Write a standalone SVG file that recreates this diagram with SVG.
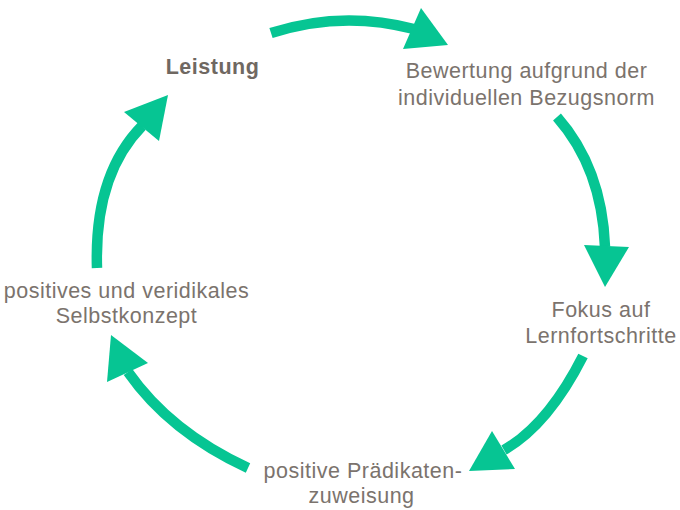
<svg xmlns="http://www.w3.org/2000/svg" width="680" height="510" viewBox="0 0 680 510">
<style>
.lbl{font-family:"Liberation Sans",Arial,sans-serif;font-size:21.5px;letter-spacing:0.5px;fill:#7b736d;text-anchor:middle}
.bold{font-weight:bold;fill:#6f6862}
.shaft{fill:none;stroke:#06C593;stroke-width:10.5;stroke-linecap:butt}
.head{fill:#06C593}
</style>
<rect width="680" height="510" fill="#ffffff"/>
<g id="connectors">
  <g id="c1"><path class="shaft" d="M271,33 Q342,10 414,29"/><polygon class="head" points="421,8 403,49 448,45"/></g>
  <g id="c2"><path class="shaft" d="M557,117 Q602,168 605,247"/><polygon class="head" points="584,245 629,247 605,287"/></g>
  <g id="c3"><path class="shaft" d="M583,356 Q548,425 504,450"/><polygon class="head" points="492,431 515,469 469,471"/></g>
  <g id="c4"><path class="shaft" d="M248,468 Q170,432 128,372"/><polygon class="head" points="111,335 148,363 107,382"/></g>
  <g id="c5"><path class="shaft" d="M97,268 Q94,175 142,126"/><polygon class="head" points="168,95 124,112 159,141"/></g>
</g>
<g id="leistung"><text class="lbl bold" x="212.5" y="74">Leistung</text></g>
<g id="bewertung"><text class="lbl" x="526.5" y="77.5">Bewertung aufgrund der</text><text class="lbl" x="526.5" y="105">individuellen Bezugsnorm</text></g>
<g id="fokus"><text class="lbl" x="601" y="317">Fokus auf</text><text class="lbl" x="601" y="343">Lernfortschritte</text></g>
<g id="praedikat"><text class="lbl" x="363" y="478">positive Prädikaten-</text><text class="lbl" x="361.5" y="503">zuweisung</text></g>
<g id="selbstkonzept"><text class="lbl" x="126.5" y="298">positives und veridikales</text><text class="lbl" x="126.5" y="323">Selbstkonzept</text></g>
</svg>
